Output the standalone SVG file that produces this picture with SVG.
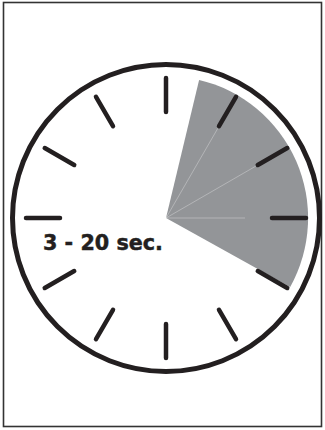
<svg xmlns="http://www.w3.org/2000/svg" width="325" height="430" viewBox="0 0 325 430">
<style>
.tick{stroke:#231f20;stroke-width:4.5;stroke-linecap:round}
.ray{stroke:#ffffff;stroke-width:0.6;stroke-opacity:0.5}
</style>
<rect x="0" y="0" width="325" height="430" fill="#ffffff"/>
<rect id="frame" x="3.5" y="2.5" width="318" height="424" fill="none" stroke="#333333" stroke-width="1.6"/>
<g id="wedge">
<path d="M166,218 L199.1,79.9 A142,142 0 0 1 290.2,287.0 Z" fill="#939598"/>
</g>
<g id="connectors">
<line class="ray" x1="166" y1="218" x2="218" y2="128"/>
<line class="ray" x1="166" y1="218" x2="256" y2="166"/>
<line class="ray" x1="166" y1="218" x2="245" y2="218"/>
</g>
<g id="dial">
<circle cx="166" cy="218" r="153.5" fill="none" stroke="#231f20" stroke-width="5"/>
<g transform="translate(166,218)">
<line class="tick" x1="0" y1="-106" x2="0" y2="-140"/>
<line class="tick" x1="0" y1="-106" x2="0" y2="-140" transform="rotate(30)"/>
<line class="tick" x1="0" y1="-106" x2="0" y2="-140" transform="rotate(60)"/>
<line class="tick" x1="0" y1="-106" x2="0" y2="-140" transform="rotate(90)"/>
<line class="tick" x1="0" y1="-106" x2="0" y2="-140" transform="rotate(120)"/>
<line class="tick" x1="0" y1="-106" x2="0" y2="-140" transform="rotate(150)"/>
<line class="tick" x1="0" y1="-106" x2="0" y2="-140" transform="rotate(180)"/>
<line class="tick" x1="0" y1="-106" x2="0" y2="-140" transform="rotate(210)"/>
<line class="tick" x1="0" y1="-106" x2="0" y2="-140" transform="rotate(240)"/>
<line class="tick" x1="0" y1="-106" x2="0" y2="-140" transform="rotate(270)"/>
<line class="tick" x1="0" y1="-106" x2="0" y2="-140" transform="rotate(300)"/>
<line class="tick" x1="0" y1="-106" x2="0" y2="-140" transform="rotate(330)"/>
</g>
</g>
<g id="label">
<text x="43" y="249.5" font-family="'DejaVu Sans', sans-serif" font-weight="bold" font-size="22" fill="#231f20" stroke="#231f20" stroke-width="0.5" textLength="120" lengthAdjust="spacingAndGlyphs">3 - 20 sec.</text>
</g>
</svg>
